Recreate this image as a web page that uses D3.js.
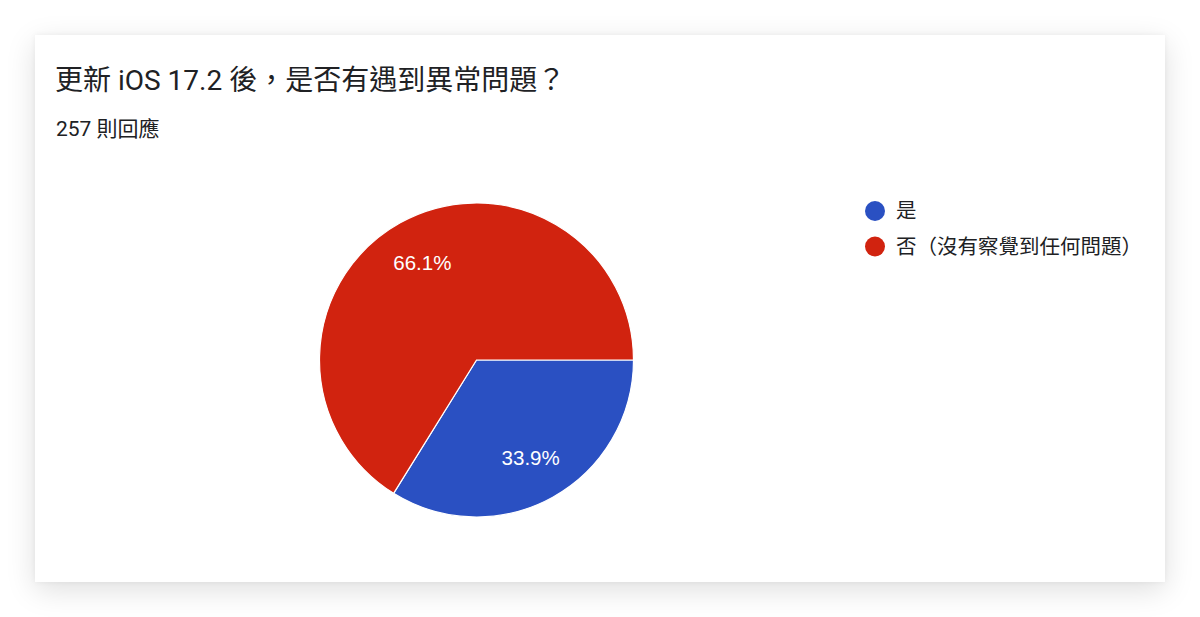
<!DOCTYPE html>
<html>
<head>
<meta charset="utf-8">
<script src="https://cdn.jsdelivr.net/npm/d3@7"></script>
<style>
  html, body { margin: 0; padding: 0; background: #fff; }
  body { width: 1200px; height: 617px; overflow: hidden; }
  .card {
    position: absolute; left: 35px; top: 35px; width: 1130px; height: 547px;
    background: #fff;
    box-shadow: 0 8px 28px rgba(0,0,0,0.13), 0 0 6px rgba(0,0,0,0.05);
  }
  svg { position: absolute; left: 0; top: 0; }
</style>
</head>
<body>
<div class="card"></div>
<div id="chart"></div>
<script>
const title = '更新 iOS 17.2 後，是否有遇到異常問題？';
const subtitle = '257 則回應';
const labels = ['是', '否（沒有察覺到任何問題）'];
const counts = [87, 170];
const colors = ['#2a50c2', '#d1230f'];

const width = 1200;
const height = 617;
const cjk = 'Roboto, "Noto Sans CJK TC", "Noto Sans CJK SC", sans-serif';

const svg = d3.select('#chart')
  .append('svg')
  .attr('width', width)
  .attr('height', height);

svg.append('text')
  .attr('x', 55)
  .attr('y', 90)
  .attr('fill', '#202124')
  .style('font-family', cjk)
  .style('font-size', '28px')
  .text(title);

svg.append('text')
  .attr('x', 56)
  .attr('y', 136)
  .attr('fill', '#202124')
  .style('font-family', cjk)
  .style('font-size', '21px')
  .text(subtitle);

// pie
const cx = 476.5, cy = 360, r = 157;
const total = d3.sum(counts);

const pie = d3.pie()
  .sort(null)
  .startAngle(Math.PI / 2)
  .endAngle(Math.PI / 2 + 2 * Math.PI);

const arc = d3.arc().innerRadius(0).outerRadius(r);
const labelArc = d3.arc().innerRadius(r * 0.71).outerRadius(r * 0.71);

const chart = svg.append('g')
  .attr('transform', `translate(${cx},${cy})`);

const slices = pie(counts);

chart.selectAll('.slice')
  .data(slices)
  .enter()
  .append('path')
  .classed('slice', true)
  .attr('d', arc)
  .attr('fill', (d, i) => colors[i])
  .attr('stroke', '#fff')
  .attr('stroke-width', 1.2);

chart.selectAll('.slice-label')
  .data(slices)
  .enter()
  .append('text')
  .classed('slice-label', true)
  .attr('transform', d => `translate(${labelArc.centroid(d)})`)
  .attr('text-anchor', 'middle')
  .attr('dy', '0.36em')
  .attr('fill', '#fff')
  .style('font-family', 'Arial, "Liberation Sans", sans-serif')
  .style('font-size', '20.5px')
  .text(d => (d.value / total * 100).toFixed(1) + '%');

// legend
const legend = svg.append('g')
  .attr('transform', 'translate(875,211)');

const item = legend.selectAll('.item')
  .data(labels)
  .enter()
  .append('g')
  .classed('item', true)
  .attr('transform', (d, i) => `translate(0,${i * 35.5})`);

item.append('circle')
  .attr('r', 10)
  .attr('fill', (d, i) => colors[i]);

item.append('text')
  .attr('x', 21)
  .attr('dy', '0.36em')
  .attr('fill', '#202124')
  .style('font-family', cjk)
  .style('font-size', '20.5px')
  .text(d => d);
</script>
</body>
</html>
